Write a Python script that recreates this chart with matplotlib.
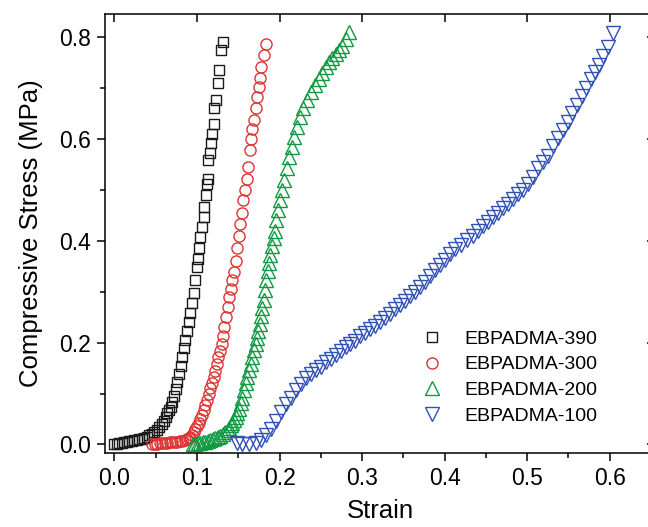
import matplotlib
matplotlib.use("Agg")
import matplotlib.pyplot as plt
from matplotlib.ticker import MultipleLocator, FormatStrFormatter

plt.rcParams["font.family"] = ["Liberation Sans", "DejaVu Sans"]

# EBPADMA-390 (Quadrate)
strain_390 = [0.000, 0.003, 0.006, 0.009, 0.012, 0.015, 0.018, 0.021, 0.024, 0.027,
              0.030, 0.033, 0.036, 0.039, 0.042, 0.045, 0.048, 0.051, 0.054, 0.057,
              0.060, 0.062, 0.064, 0.066, 0.068, 0.070, 0.072, 0.074, 0.076, 0.078,
              0.080, 0.082, 0.084, 0.086, 0.088, 0.090, 0.092, 0.094, 0.096, 0.098,
              0.100, 0.101, 0.102, 0.104, 0.106, 0.108, 0.108, 0.111, 0.112, 0.113,
              0.113, 0.116, 0.117, 0.118, 0.120, 0.121, 0.123, 0.125, 0.127, 0.129,
              0.131]
stress_390 = [0.000, 0.001, 0.002, 0.003, 0.004, 0.005, 0.006, 0.007, 0.008, 0.009,
              0.010, 0.011, 0.013, 0.015, 0.018, 0.021, 0.025, 0.029, 0.034, 0.040,
              0.047, 0.054, 0.061, 0.067, 0.074, 0.084, 0.095, 0.108, 0.122, 0.138,
              0.155, 0.172, 0.190, 0.206, 0.222, 0.240, 0.258, 0.278, 0.298, 0.322,
              0.348, 0.365, 0.385, 0.407, 0.426, 0.446, 0.466, 0.490, 0.512, 0.522,
              0.558, 0.572, 0.592, 0.610, 0.630, 0.660, 0.676, 0.710, 0.735, 0.774,
              0.790]

# EBPADMA-300 (Kreise)
strain_300 = [0.046, 0.049, 0.052, 0.055, 0.058, 0.061, 0.064, 0.067, 0.070, 0.073,
              0.076, 0.079, 0.082, 0.085, 0.088, 0.090, 0.092, 0.094, 0.096, 0.098,
              0.100, 0.102, 0.104, 0.106, 0.108, 0.110, 0.112, 0.114, 0.116, 0.118,
              0.120, 0.122, 0.124, 0.126, 0.128, 0.130, 0.131, 0.133, 0.135, 0.137,
              0.139, 0.141, 0.143, 0.145, 0.147, 0.149, 0.151, 0.152, 0.154, 0.156,
              0.158, 0.160, 0.162, 0.164, 0.166, 0.167, 0.169, 0.171, 0.173, 0.175,
              0.176, 0.178, 0.181, 0.183]
stress_300 = [0.000, 0.001, 0.001, 0.002, 0.002, 0.003, 0.003, 0.004, 0.004, 0.005,
              0.005, 0.006, 0.007, 0.008, 0.010, 0.012, 0.015, 0.019, 0.024, 0.030,
              0.036, 0.042, 0.050, 0.058, 0.067, 0.077, 0.088, 0.100, 0.110, 0.121,
              0.132, 0.145, 0.158, 0.171, 0.184, 0.198, 0.212, 0.230, 0.250, 0.270,
              0.289, 0.306, 0.322, 0.338, 0.360, 0.385, 0.410, 0.432, 0.455, 0.480,
              0.500, 0.522, 0.545, 0.578, 0.600, 0.620, 0.637, 0.660, 0.683, 0.702,
              0.720, 0.740, 0.765, 0.786]

# EBPADMA-200 (Dreiecke)
strain_200 = [0.095, 0.098, 0.101, 0.104, 0.107, 0.110, 0.113, 0.116, 0.119, 0.122,
              0.125, 0.128, 0.131, 0.134, 0.137, 0.139, 0.141, 0.143, 0.145, 0.147,
              0.149, 0.151, 0.153, 0.155, 0.157, 0.159, 0.161, 0.163, 0.165, 0.167,
              0.169, 0.171, 0.173, 0.174, 0.176, 0.177, 0.179, 0.181, 0.182, 0.184,
              0.186, 0.187, 0.189, 0.191, 0.193, 0.195, 0.196, 0.198, 0.200, 0.203,
              0.206, 0.209, 0.212, 0.215, 0.218, 0.221, 0.225, 0.229, 0.233, 0.238,
              0.243, 0.248, 0.252, 0.256, 0.260, 0.264, 0.268, 0.272, 0.276, 0.280,
              0.284]
stress_200 = [0.000, 0.001, 0.002, 0.003, 0.004, 0.005, 0.006, 0.008, 0.010, 0.012,
              0.014, 0.017, 0.020, 0.024, 0.028, 0.033, 0.038, 0.043, 0.048, 0.054,
              0.062, 0.070, 0.081, 0.092, 0.106, 0.120, 0.133, 0.146, 0.158, 0.171,
              0.185, 0.198, 0.210, 0.222, 0.237, 0.252, 0.268, 0.284, 0.303, 0.322,
              0.340, 0.356, 0.372, 0.389, 0.405, 0.420, 0.440, 0.460, 0.480, 0.500,
              0.519, 0.542, 0.565, 0.584, 0.604, 0.623, 0.643, 0.660, 0.676, 0.691,
              0.705, 0.718, 0.730, 0.740, 0.750, 0.758, 0.766, 0.775, 0.783, 0.795,
              0.810]

# EBPADMA-100 (umgekehrte Dreiecke)
strain_100 = [0.148, 0.155, 0.163, 0.171, 0.177, 0.183, 0.190, 0.196, 0.202, 0.208,
              0.214, 0.220, 0.226, 0.232, 0.238, 0.244, 0.250, 0.256, 0.262, 0.268,
              0.274, 0.280, 0.286, 0.292, 0.298, 0.304, 0.310, 0.316, 0.322, 0.328,
              0.334, 0.340, 0.346, 0.352, 0.358, 0.364, 0.370, 0.376, 0.382, 0.388,
              0.394, 0.400, 0.406, 0.413, 0.420, 0.427, 0.434, 0.441, 0.447, 0.453,
              0.459, 0.465, 0.471, 0.477, 0.483, 0.489, 0.495, 0.501, 0.507, 0.513,
              0.519, 0.525, 0.531, 0.537, 0.543, 0.549, 0.555, 0.561, 0.566, 0.571,
              0.577, 0.582, 0.587, 0.592, 0.598, 0.604]
stress_100 = [0.002, 0.000, 0.000, 0.002, 0.008, 0.018, 0.031, 0.047, 0.063, 0.079,
              0.092, 0.106, 0.119, 0.130, 0.139, 0.146, 0.153, 0.161, 0.168, 0.175,
              0.183, 0.191, 0.197, 0.204, 0.212, 0.219, 0.226, 0.233, 0.241, 0.249,
              0.257, 0.265, 0.274, 0.282, 0.291, 0.300, 0.310, 0.319, 0.330, 0.342,
              0.353, 0.363, 0.373, 0.383, 0.392, 0.401, 0.410, 0.419, 0.428, 0.437,
              0.446, 0.455, 0.464, 0.473, 0.482, 0.491, 0.500, 0.512, 0.525, 0.543,
              0.555, 0.567, 0.585, 0.602, 0.618, 0.633, 0.650, 0.667, 0.684, 0.700,
              0.717, 0.732, 0.745, 0.763, 0.780, 0.808]

fig = plt.figure(figsize=(6.48, 5.27), dpi=100)
ax = fig.add_axes([105 / 648, 1 - 453 / 527, 550 / 648, 439 / 527])

ax.plot(strain_390, stress_390, "s", ms=7.3, mfc="none", mec="#1a1a1a", mew=1.0,
        label="EBPADMA-390")
ax.plot(strain_300, stress_300, "o", ms=8, mfc="none", mec="#dd3333", mew=1.0,
        label="EBPADMA-300")
ax.plot(strain_200, stress_200, "^", ms=9.5, mfc="none", mec="#119944", mew=1.0,
        label="EBPADMA-200")
ax.plot(strain_100, stress_100, "v", ms=9.5, mfc="none", mec="#3050b8", mew=1.0,
        label="EBPADMA-100")

ax.set_xlim(-0.0115, 0.655)
ax.set_ylim(-0.0167, 0.845)
ax.xaxis.set_major_locator(MultipleLocator(0.1))
ax.xaxis.set_minor_locator(MultipleLocator(0.05))
ax.yaxis.set_major_locator(MultipleLocator(0.2))
ax.yaxis.set_minor_locator(MultipleLocator(0.1))
ax.xaxis.set_major_formatter(FormatStrFormatter("%.1f"))
ax.yaxis.set_major_formatter(FormatStrFormatter("%.1f"))

for s in ax.spines.values():
    s.set_linewidth(1.1)
ax.tick_params(which="major", direction="out", length=6, width=1.1, labelsize=16.5,
               pad=4)
ax.tick_params(which="minor", direction="out", length=3.5, width=1.1)

# oben/rechts: Ticks nach innen (Origin-Stil)
sec_x = ax.secondary_xaxis("top")
sec_x.set_xticks([0.0, 0.1, 0.2, 0.3, 0.4, 0.5, 0.6])
sec_x.tick_params(direction="in", length=6, width=1.1, labeltop=False)
sec_x.spines["top"].set_visible(False)
sec_y = ax.secondary_yaxis("right")
sec_y.yaxis.set_major_locator(MultipleLocator(0.2))
sec_y.yaxis.set_minor_locator(MultipleLocator(0.1))
sec_y.tick_params(which="major", direction="in", length=6, width=1.1, labelright=False)
sec_y.tick_params(which="minor", direction="in", length=3.5, width=1.1)
sec_y.spines["right"].set_visible(False)

ax.set_ylabel("Compressive Stress (MPa)", fontsize=18.5, labelpad=12)
# x-Beschriftung knapp über dem unteren Bildrand
fig.text(380 / 648, 4 / 527, "Strain", fontsize=18.5, ha="center", va="bottom")

ax.legend(loc="upper left", bbox_to_anchor=(422 / 648, 1 - 330 / 527),
          bbox_transform=fig.transFigure, frameon=False, fontsize=14,
          handlelength=1.0, handletextpad=1.2, labelspacing=0.42,
          borderpad=0, borderaxespad=0)

fig.savefig("out.png", dpi=100)
